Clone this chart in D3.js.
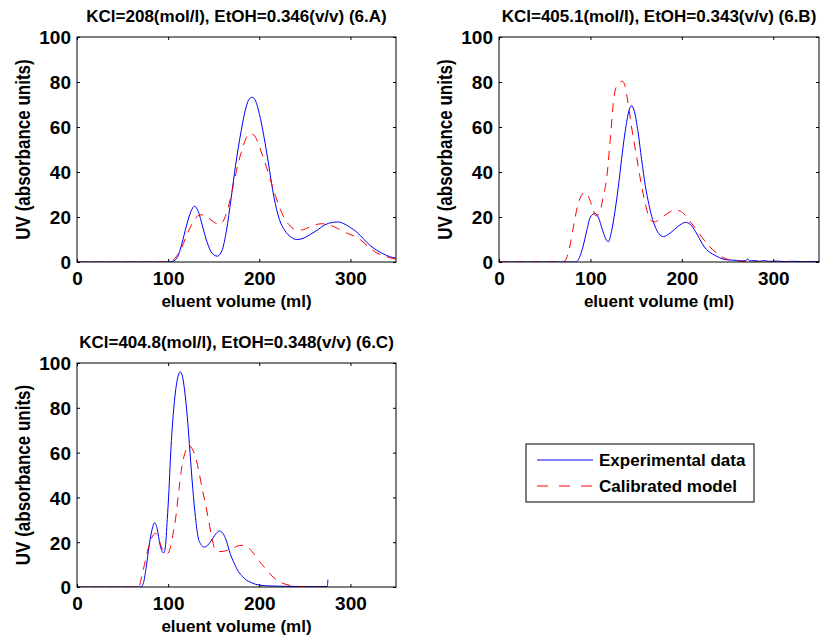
<!DOCTYPE html>
<meta charset="utf-8">
<style>
  body { margin: 0; background: #fff; }
  text { font-family: "Liberation Sans", Arial, sans-serif; font-weight: bold; fill: #000; }
</style>
<script src="https://d3js.org/d3.v7.min.js"></script>
<div id="chart"></div>
<script>
  // tick labels and titles
  var xTicks = [0, 100, 200, 300];
  var yTicks = [0, 20, 40, 60, 80, 100];
  var titles = [
    "KCl=208(mol/l), EtOH=0.346(v/v) (6.A)",
    "KCl=405.1(mol/l), EtOH=0.343(v/v) (6.B)",
    "KCl=404.8(mol/l), EtOH=0.348(v/v) (6.C)"
  ];
  var seriesNames = ["Experimental data", "Calibrated model"];

  // 6.A
  var volExpA = [0, 100, 105, 110, 115, 120, 125, 129, 133, 138, 143, 148, 154, 159, 164, 169, 174, 180, 185, 189, 192, 196, 200, 205, 210, 216, 222, 228, 235, 241, 248, 255, 263, 272, 280, 286, 292, 300, 307, 315, 322, 329, 336, 343, 350];
  var uvExpA = [0, 0, 0.3, 2, 8, 16, 22.5, 24.8, 22.5, 15.5, 8.5, 4, 2.6, 5, 14, 28, 43, 58, 68, 72.5, 73.2, 71.5, 66, 56, 44, 29, 19, 14, 11, 10, 10.5, 12, 14, 16.5, 17.6, 17.8, 17.2, 15.3, 13.3, 10, 7.2, 5.2, 3.6, 2.4, 1.7];
  var volModA = [0, 100, 105, 110, 115, 120, 125, 130, 136, 141, 146, 151, 157, 162, 167, 172, 177, 182, 186, 190, 194, 198, 203, 208, 213, 218, 223, 228, 234, 240, 246, 252, 260, 268, 275, 282, 290, 298, 307, 315, 322, 329, 336, 343, 350];
  var uvModA = [0, 0, 0.8, 3, 6.5, 11.5, 16, 19.5, 21, 20.5, 19, 17.5, 16.8, 19.5, 26, 35, 44, 51, 55.5, 57, 56.5, 53.5, 48, 42, 35.5, 29, 23.5, 19, 16, 14.3, 14.2, 15, 16.3, 17, 16.7, 15.7, 14, 12.5, 11, 8.5, 6, 4, 2.8, 1.9, 1.3];

  // 6.B
  var volExpB = [0, 84, 88, 92, 96, 100, 105, 109, 113, 116, 119.5, 123, 127, 131, 134, 138, 142, 145, 148, 152, 156, 160, 164, 167, 171, 175, 180, 186, 192, 198, 204, 209, 215, 220, 224, 230, 237, 245, 252, 260, 266, 270, 272, 274, 280, 285, 290, 295, 305, 312, 320, 335, 350];
  var uvExpB = [0, 0, 2, 7, 14, 20, 21.6, 19.5, 14.5, 11, 9, 13.5, 23, 35, 45.5, 58, 67, 69.5, 67, 58, 45.5, 34, 25.5, 20.3, 15.5, 12.5, 11.3, 12.5, 14.5, 16.5, 17.6, 16.8, 13.5, 9.8, 7, 4.5, 2.8, 1.3, 0.9, 0.7, 0.5, 0.6, 1.4, 0.5, 0.6, 0.3, 0.6, 0.3, 0.4, 0.2, 0.3, 0.2, 0.2];
  var volModB = [0, 70, 74, 78, 82, 86, 90, 94, 98, 102, 106, 110, 114, 118, 122, 126, 130, 135, 138, 141, 145, 150, 155, 160, 165, 170, 175, 180, 186, 192, 197, 202, 208, 216, 222, 230, 238, 245, 252, 260, 270, 285, 350];
  var uvModB = [0, 0, 1.8, 8, 17, 25, 29.5, 31, 29, 24.5, 20.5, 22, 29, 38, 56, 74, 79, 80.3, 78, 71, 60, 48, 36, 26, 19, 17.8, 18.8, 20.3, 22, 23, 22.8, 21.5, 18.5, 14.4, 11, 7, 4, 2, 1, 0.5, 0.2, 0, 0];

  // 6.C
  var volExpC = [0, 70, 73, 76, 79, 82, 85.2, 88, 91, 95, 97, 99, 101, 102.4, 104, 106, 108, 110, 113.3, 116, 118, 121, 124, 127, 130, 133, 136, 139, 143, 147, 151, 156.5, 160, 164, 168, 172, 177, 182, 186, 190, 196, 201, 210, 230, 250, 274.5, 275.3];
  var uvExpC = [0, 0, 2, 9, 18, 25, 28.7, 26, 19, 15.2, 18, 30, 44, 56.6, 68, 79, 87, 92.5, 96, 93.5, 88, 76, 60, 44, 31, 22, 19, 17.8, 18.5, 20.5, 23, 25, 24, 20.5, 15, 11, 7, 4.5, 3, 2.2, 1.2, 0.8, 0.5, 0.3, 0.2, 0.2, 3.3];
  var volModC = [0, 68, 70, 74, 78, 82, 86, 89, 92, 95, 99, 102, 105, 108, 112, 115, 119, 122.5, 126, 130, 134, 137, 141, 144.4, 148, 152, 158, 165, 172, 178, 185, 190, 194, 200, 208.5, 215, 222, 227, 235, 245, 260, 275];
  var uvModC = [0, 0, 3, 10, 17, 22, 24, 22.5, 18.5, 16, 14.9, 17, 23, 30, 44, 53.6, 60.5, 63.2, 62, 58, 51, 44.6, 37, 29.8, 22, 16.4, 15.8, 16.4, 17.5, 18.5, 18.6, 16.8, 14.9, 11.5, 7.5, 4.5, 2.3, 1.5, 0.6, 0.2, 0, 0];

  var W = 827, H = 639;
  var svg = d3.select("#chart").append("svg")
    .attr("width", W)
    .attr("height", H);

  var panels = [
    { left: 77, top: 37, width: 319, height: 225, title: titles[0], exp: [volExpA, uvExpA], mod: [volModA, uvModA] },
    { left: 499, top: 37, width: 320, height: 225, title: titles[1], exp: [volExpB, uvExpB], mod: [volModB, uvModB] },
    { left: 77, top: 363, width: 319, height: 224, title: titles[2], exp: [volExpC, uvExpC], mod: [volModC, uvModC] }
  ];

  function toPoints(xs, ys) {
    return xs.map(function (v, i) { return [v, ys[i]]; });
  }

  panels.forEach(function (p, idx) {
    var g = svg.append("g")
      .attr("transform", "translate(" + p.left + "," + p.top + ")");

    var x = d3.scaleLinear().domain([0, 350]).range([0, p.width]);
    var y = d3.scaleLinear().domain([0, 100]).range([p.height, 0]);

    g.append("clipPath").attr("id", "clip" + idx)
      .append("rect").attr("width", p.width).attr("height", p.height);

    var line = d3.line()
      .x(function (d) { return x(d[0]); })
      .y(function (d) { return y(d[1]); })
      .curve(d3.curveMonotoneX);

    var plot = g.append("g").attr("clip-path", "url(#clip" + idx + ")");
    plot.append("path")
      .datum(toPoints(p.exp[0], p.exp[1]))
      .attr("fill", "none")
      .attr("stroke", "#0000ff")
      .attr("stroke-width", 1)
      .attr("d", line);
    plot.append("path")
      .datum(toPoints(p.mod[0], p.mod[1]))
      .attr("fill", "none")
      .attr("stroke", "#ff0000")
      .attr("stroke-width", 1)
      .attr("stroke-dasharray", "9,7")
      .attr("d", line);

    // axes, matlab style: ticks inside on all 4 sides
    var xb = g.append("g").attr("transform", "translate(0," + p.height + ")")
      .call(d3.axisBottom(x).tickValues(xTicks).tickSizeInner(-3).tickSizeOuter(0).tickPadding(9));
    var yl = g.append("g")
      .call(d3.axisLeft(y).tickValues(yTicks).tickSizeInner(-3).tickSizeOuter(0).tickPadding(6));
    g.append("g")
      .call(d3.axisTop(x).tickValues(xTicks).tickSizeInner(-3).tickSizeOuter(0).tickFormat(""));
    g.append("g").attr("transform", "translate(" + p.width + ",0)")
      .call(d3.axisRight(y).tickValues(yTicks).tickSizeInner(-3).tickSizeOuter(0).tickFormat(""));

    g.selectAll(".domain").remove();
    g.selectAll(".tick line").attr("stroke", "#000");
    xb.selectAll("text").attr("font-size", 19).attr("font-family", null).attr("dy", "0.75em");
    yl.selectAll("text").attr("font-size", 19).attr("font-family", null).attr("dy", "0.36em");

    g.append("rect")
      .attr("width", p.width)
      .attr("height", p.height)
      .attr("fill", "none")
      .attr("stroke", "#000")
      .attr("stroke-width", 1);

    g.append("text")
      .attr("x", p.width / 2)
      .attr("y", -15)
      .attr("text-anchor", "middle")
      .attr("font-size", 17)
      .text(p.title);

    g.append("text")
      .attr("x", p.width / 2)
      .attr("y", p.height + 45)
      .attr("text-anchor", "middle")
      .attr("font-size", 17)
      .text("eluent volume (ml)");

    g.append("text")
      .attr("transform", "translate(-47," + (p.height / 2) + ") rotate(-90) scale(1,1.2)")
      .attr("text-anchor", "middle")
      .attr("font-size", 17)
      .text("UV (absorbance units)");
  });

  // legend
  var leg = svg.append("g").attr("transform", "translate(526,444)");
  leg.append("rect")
    .attr("width", 228).attr("height", 58)
    .attr("fill", "#fff").attr("stroke", "#000");
  [["#0000ff", null], ["#ff0000", "11,11"]].forEach(function (s, i) {
    var yy = 16 + i * 26;
    leg.append("line")
      .attr("x1", 11).attr("x2", 67)
      .attr("y1", yy).attr("y2", yy)
      .attr("stroke", s[0]).attr("stroke-width", 1)
      .attr("stroke-dasharray", s[1]);
    leg.append("text")
      .attr("x", 73).attr("y", yy + 6)
      .attr("font-size", 17)
      .text(seriesNames[i]);
  });
</script>
